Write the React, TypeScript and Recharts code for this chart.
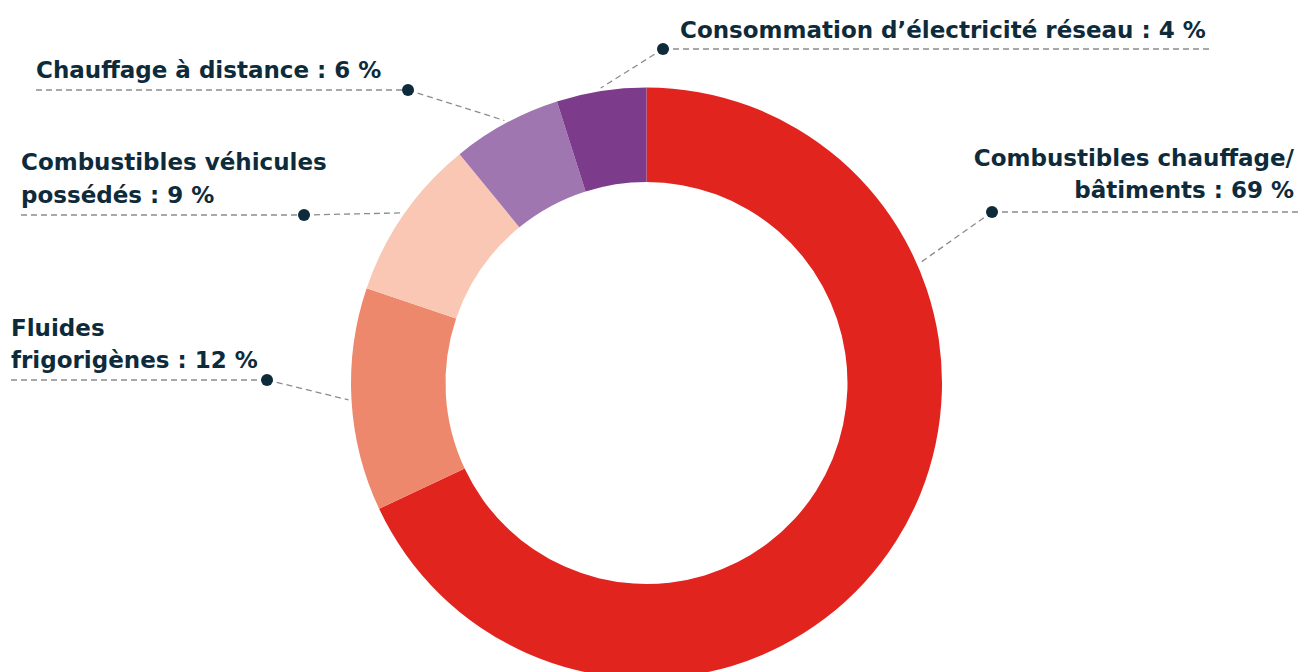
import { PieChart, Pie, Cell } from 'recharts';

// slice shares as measured on the ring; printed percentages kept separately
const categories = [
    'Combustibles chauffage/bâtiments',
    'Fluides frigorigènes',
    'Combustibles véhicules possédés',
    'Chauffage à distance',
    'Consommation d’électricité réseau',
];
const shares = [68, 12.2, 8.9, 6.0, 4.9];
const printedShares = ['69 %', '12 %', '9 %', '6 %', '4 %'];
const labelLines = [
    ['Combustibles chauffage/', 'bâtiments : 69 %'],
    ['Fluides', 'frigorigènes : 12 %'],
    ['Combustibles véhicules', 'possédés : 9 %'],
    ['Chauffage à distance : 6 %'],
    ['Consommation d’électricité réseau : 4 %'],
];
const colors = ['#E2241F', '#EE886D', '#F9C7B4', '#A076B0', '#7D3B8B'];

const data = categories.map((name, i) => ({ name, value: shares[i], printed: printedShares[i] }));

// where each callout sits
const layout = [
    { textX: 1294, anchor: 'end', baselines: [166, 198], dotX: 992, dotY: 212, ruleFrom: 992, ruleTo: 1299, angle: 23.7 },
    { textX: 11, anchor: 'start', baselines: [336, 368], dotX: 267, dotY: 380, ruleFrom: 11, ruleTo: 267 },
    { textX: 21, anchor: 'start', baselines: [170, 203], dotX: 304, dotY: 215, ruleFrom: 21, ruleTo: 304 },
    { textX: 36, anchor: 'start', baselines: [78], dotX: 408, dotY: 90, ruleFrom: 36, ruleTo: 408 },
    { textX: 680, anchor: 'start', baselines: [38], dotX: 663, dotY: 49, ruleFrom: 663, ruleTo: 1212 },
];

const RAD = Math.PI / 180;
const TEXT = '#0E2B3B';
const DASH = '#8C8C8C';

const renderLabel = (props: any) => {
    const { cx, cy, midAngle, outerRadius, index } = props;
    const l: any = layout[index];
    const a = (l.angle ?? midAngle) * RAD;
    const ex = cx + (outerRadius + 3) * Math.cos(a);
    const ey = cy - (outerRadius + 3) * Math.sin(a);
    return (
        <g key={`lbl-${index}`}>
            <line x1={l.dotX} y1={l.dotY} x2={ex} y2={ey} stroke={DASH} strokeWidth={1.3} strokeDasharray="6 4" />
            <line x1={l.ruleFrom} y1={l.dotY} x2={l.ruleTo} y2={l.dotY} stroke={DASH} strokeWidth={1.3} strokeDasharray="6 4" />
            <circle cx={l.dotX} cy={l.dotY} r={6} fill={TEXT} />
            <text
                textAnchor={l.anchor}
                fill={TEXT}
                fontFamily="'DejaVu Sans', sans-serif"
                fontWeight={700}
                fontSize={23}
            >
                {labelLines[index].map((t, j) => (
                    <tspan key={j} x={l.textX} y={l.baselines[j]}>{t}</tspan>
                ))}
            </text>
        </g>
    );
};

export default function App() {
    return (
        <div style={{ width: 1299, height: 672, background: '#fff' }}>
            <style>{`body{margin:0}`}</style>
            <PieChart width={1299} height={672} margin={{ top: 0, right: 0, bottom: 0, left: 0 }}>
                <Pie
                    data={data}
                    dataKey="value"
                    nameKey="name"
                    cx={646.5}
                    cy={383}
                    innerRadius={201}
                    outerRadius={295.5}
                    startAngle={90}
                    endAngle={-270}
                    stroke="none"
                    label={renderLabel}
                    labelLine={false}
                    isAnimationActive={false}
                >
                    {data.map((d, i) => (
                        <Cell key={d.name} fill={colors[i]} />
                    ))}
                </Pie>
            </PieChart>
        </div>
    );
}
